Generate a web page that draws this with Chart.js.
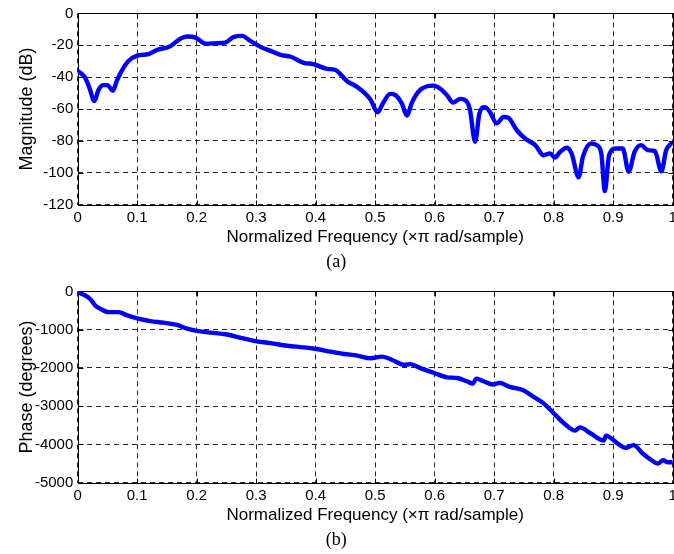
<!DOCTYPE html>
<html>
<head>
<meta charset="utf-8">
<script src="https://cdn.jsdelivr.net/npm/chart.js@4.4.1/dist/chart.umd.min.js"></script>
<style>
  html, body { margin: 0; padding: 0; background: #fff; overflow: hidden; width: 674px; height: 554px; }
  canvas { position: absolute; left: 0; }
  #c1 { top: 0; }
  #c2 { top: 278px; }
</style>
</head>
<body>
<canvas id="c1" width="690" height="276"></canvas>
<canvas id="c2" width="690" height="276"></canvas>
<script>
// ---------- data ----------
const freqMag = [0, 0.012, 0.02, 0.028, 0.035, 0.043, 0.05, 0.059, 0.066, 0.074, 0.085, 0.1, 0.119, 0.133, 0.156, 0.172, 0.184, 0.198, 0.215, 0.234, 0.248, 0.262, 0.276, 0.29, 0.307, 0.324, 0.341, 0.358, 0.38, 0.396, 0.419, 0.433, 0.453, 0.469, 0.492, 0.504, 0.514, 0.525, 0.533, 0.545, 0.553, 0.562, 0.573, 0.587, 0.598, 0.61, 0.621, 0.631, 0.643, 0.652, 0.659, 0.668, 0.675, 0.684, 0.693, 0.704, 0.716, 0.724, 0.738, 0.752, 0.769, 0.783, 0.794, 0.802, 0.81, 0.822, 0.83, 0.842, 0.849, 0.863, 0.872, 0.88, 0.886, 0.893, 0.905, 0.916, 0.926, 0.936, 0.947, 0.958, 0.97, 0.981, 0.989, 0.998];
const magDb = [-36, -40, -47, -55, -48, -45, -45, -48.5, -42, -36, -30, -26.5, -25.5, -23, -20.5, -16, -14.5, -15.2, -19, -18.7, -18.3, -14.8, -14.1, -17.2, -21, -23.5, -26, -27.2, -31, -31.8, -34.8, -35.5, -42.5, -46, -54, -62, -55.7, -50.5, -51, -56.7, -64, -55.7, -49, -45.7, -45.3, -47.4, -51.5, -56, -53.6, -54.6, -60, -80.5, -63, -58.8, -61.9, -69, -65, -65.6, -73.3, -78.5, -82.6, -89, -87.8, -90.5, -87.2, -84.3, -87.8, -102.8, -90, -81.6, -82.6, -87.8, -111.5, -89, -84.7, -84.7, -99.3, -86.8, -82.6, -85.8, -86.4, -99, -85.8, -81.6];

const freqPhase = [0, 0.01, 0.021, 0.029, 0.038, 0.052, 0.069, 0.083, 0.1, 0.122, 0.144, 0.167, 0.184, 0.2, 0.223, 0.251, 0.274, 0.296, 0.324, 0.352, 0.38, 0.401, 0.425, 0.448, 0.47, 0.492, 0.511, 0.522, 0.534, 0.548, 0.559, 0.576, 0.598, 0.621, 0.638, 0.654, 0.664, 0.67, 0.682, 0.698, 0.709, 0.726, 0.749, 0.766, 0.783, 0.8, 0.817, 0.836, 0.844, 0.861, 0.884, 0.888, 0.906, 0.921, 0.934, 0.95, 0.964, 0.975, 0.984, 0.992, 1.0];
const phaseDeg = [-17, -86, -198, -361, -456, -542, -542, -628, -706, -775, -818, -878, -973, -1033, -1076, -1127, -1213, -1291, -1351, -1420, -1463, -1506, -1575, -1635, -1678, -1747, -1704, -1747, -1833, -1919, -1902, -2005, -2126, -2246, -2263, -2349, -2410, -2281, -2349, -2435, -2392, -2496, -2582, -2754, -2926, -3184, -3442, -3640, -3554, -3700, -3898, -3769, -3959, -4088, -4019, -4243, -4406, -4501, -4415, -4467, -4467];

const xTickValues = [0, 0.1, 0.2, 0.3, 0.4, 0.5, 0.6, 0.7, 0.8, 0.9, 1];
const xTickLabels = ['0', '0.1', '0.2', '0.3', '0.4', '0.5', '0.6', '0.7', '0.8', '0.9', '1'];
const magTickValues = [-120, -100, -80, -60, -40, -20, 0];
const magTickLabels = ['-120', '-100', '-80', '-60', '-40', '-20', '0'];
const phaseTickValues = [-5000, -4000, -3000, -2000, -1000, 0];
const phaseTickLabels = ['-5000', '-4000', '-3000', '-2000', '-1000', '0'];

const xTitle = 'Normalized Frequency (\u00d7\u03c0 rad/sample)';

// ---------- helpers ----------
const SANS = "'Liberation Sans', Arial, Helvetica, sans-serif";
const SERIF = "'Liberation Serif', 'Times New Roman', serif";

const framePlugin = {
  id: 'frame',
  beforeDatasetsDraw(chart) {
    const {ctx, chartArea: a, scales} = chart;
    const L = Math.round(a.left) + 0.5, R = Math.round(a.right) + 0.5;
    const T = Math.round(a.top) + 0.5, B = Math.round(a.bottom) + 0.5;
    ctx.save();
    ctx.strokeStyle = '#000';
    ctx.lineWidth = 1;
    ctx.setLineDash([]);
    ctx.strokeRect(L, T, R - L, B - T);
    ctx.beginPath();
    const tl = 5;
    scales.x.ticks.forEach(t => {
      const px = Math.round(scales.x.getPixelForValue(t.value)) + 0.5;
      ctx.moveTo(px, B); ctx.lineTo(px, B - tl);
      ctx.moveTo(px, T); ctx.lineTo(px, T + tl);
    });
    scales.y.ticks.forEach(t => {
      const py = Math.round(scales.y.getPixelForValue(t.value)) + 0.5;
      ctx.moveTo(L, py); ctx.lineTo(L + tl, py);
      ctx.moveTo(R, py); ctx.lineTo(R - tl, py);
    });
    ctx.stroke();
    ctx.restore();
  }
};

function makeChart(id, xs, ys, yVals, yLabels, yMin, yMax, yTitle, panelLabel) {
  const pts = xs.map((x, i) => ({x: x, y: ys[i]}));
  return new Chart(document.getElementById(id), {
    type: 'line',
    data: {
      datasets: [{
        data: pts,
        borderColor: '#0000ff',
        borderWidth: 4.4,
        pointRadius: 0,
        cubicInterpolationMode: 'monotone',
        borderJoinStyle: 'round',
        borderCapStyle: 'round',
        fill: false
      }]
    },
    options: {
      responsive: false,
      animation: false,
      events: [],
      layout: { padding: { top: 10.5, right: 17.3, bottom: 3.2, left: 0 } },
      plugins: {
        legend: { display: false },
        tooltip: { enabled: false },
        title: {
          display: true,
          text: panelLabel,
          position: 'bottom',
          color: '#000',
          padding: 0,
          font: { family: SERIF, size: 18, weight: 'normal', lineHeight: 1.2 }
        }
      },
      scales: {
        x: {
          type: 'linear',
          min: 0, max: 1,
          afterBuildTicks: s => { s.ticks = xTickValues.map(v => ({value: v})); },
          afterFit: s => { s.height = 46.5; },
          ticks: {
            color: '#000',
            padding: 4,
            maxRotation: 0,
            autoSkip: false,
            font: { family: SANS, size: 15 },
            callback: (v, i) => xTickLabels[i]
          },
          grid: { color: 'rgba(0,0,0,0.85)', lineWidth: 1, drawTicks: false },
          border: { display: false, dash: [5, 4] },
          title: {
            display: true,
            text: xTitle,
            color: '#000',
            padding: { top: 0, bottom: 3.2 },
            font: { family: SANS, size: 17, lineHeight: 1.2 }
          }
        },
        y: {
          type: 'linear',
          min: yMin, max: yMax,
          afterBuildTicks: s => { s.ticks = yVals.map(v => ({value: v})); },
          afterFit: s => { s.width = 77.7; },
          ticks: {
            color: '#000',
            padding: 4.4,
            autoSkip: false,
            font: { family: SANS, size: 15 },
            callback: (v, i) => yLabels[i]
          },
          grid: { color: 'rgba(0,0,0,0.85)', lineWidth: 1, drawTicks: false },
          border: { display: false, dash: [5, 4] },
          title: {
            display: true,
            text: yTitle,
            color: '#000',
            padding: { top: 16, bottom: 0 },
            font: { family: SANS, size: 18, lineHeight: 1.2 }
          }
        }
      }
    },
    plugins: [framePlugin]
  });
}

makeChart('c1', freqMag, magDb, magTickValues, magTickLabels, -120, 0, 'Magnitude (dB)', '(a)');
makeChart('c2', freqPhase, phaseDeg, phaseTickValues, phaseTickLabels, -5000, 0, 'Phase (degrees)', '(b)');
</script>
</body>
</html>
